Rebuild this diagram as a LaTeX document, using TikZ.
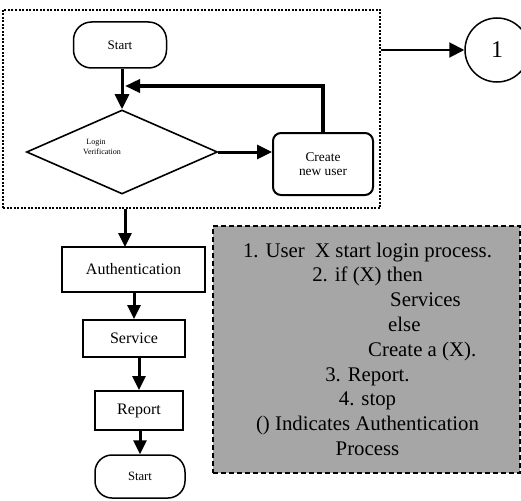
\documentclass[tikz,border=0pt]{standalone}
\usepackage{fontspec}
\setmainfont{Liberation Serif}
\usetikzlibrary{arrows.meta,shapes.geometric,calc}
\definecolor{boxgray}{RGB}{166,166,166}
\begin{document}
\begin{tikzpicture}[x=1pt,y=-1pt,
  arr/.style={line width=3pt,-{Triangle[length=15pt,width=14pt]}},
  arrs/.style={line width=3pt,-{Triangle[length=14pt,width=13pt]}},
  term/.style={draw,line width=1.5pt,rounded corners=18pt,inner sep=0pt},
  proc/.style={draw,line width=2pt,inner sep=0pt,font=\fontsize{16}{18}\selectfont},
  txt/.style={font=\fontsize{20.8}{24.8}\selectfont,inner sep=0pt},
]
\useasboundingbox (0,0) rectangle (521,500);
% dotted group box
\node[draw,line width=2pt,dash pattern=on 2pt off 1.5pt,minimum width=377pt,minimum height=198pt,inner sep=0pt] (grp) at (191.5,109) {};
% top part
\node[term,minimum width=93pt,minimum height=46pt,font=\fontsize{13}{15}\selectfont] (start) at (120,45) {Start};
\node[diamond,draw,line width=1.6pt,minimum width=191pt,minimum height=84pt,inner sep=0pt] (login) at (122,152) {};
\node[font=\fontsize{8}{10}\selectfont,align=center,inner sep=0pt] (logintxt) at (102,147) {Login\hspace*{12pt}\\Verification};
\node[draw,line width=2pt,rounded corners=8pt,minimum width=100pt,minimum height=62pt,align=center,inner sep=0pt,font=\fontsize{13.4}{14.5}\selectfont] (create) at (323,164) {Create\\new user};
\node[draw,circle,line width=1.5pt,minimum size=64pt,inner sep=0pt,font=\fontsize{24}{24}\selectfont] (one) at (497,50) {1};
\coordinate (fb) at (125,86);
\draw[arr] (start.south -| login.north) -- (login.north);
\draw[arr] (login.east) -- (login.east -| create.west);
\draw[line width=3.5pt,-{Triangle[length=15pt,width=13pt]}] (create.north) |- (fb);
\draw[line width=2pt,-{Triangle[length=15pt,width=15pt]}] (grp.east |- one.west) -- (one.west);
% lower chain
\node[proc,minimum width=143pt,minimum height=45pt] (auth) at (133.5,269.5) {Authentication};
\node[proc,minimum width=102pt,minimum height=37pt] (serv) at (134,338.5) {Service};
\node[proc,minimum width=88pt,minimum height=39pt] (rep) at (139,410.5) {Report};
\node[term,rounded corners=17pt,minimum width=90pt,minimum height=43pt,font=\fontsize{12.7}{14}\selectfont] (stop) at (140,476.5) {Start};
\coordinate (a1) at (125,247);
\draw[arrs] (grp.south -| a1) -- (a1);
\draw[arrs] (auth.south -| serv.north) -- (serv.north);
\draw[arrs] (serv.south -| rep.north) -- (rep.north);
\draw[arrs] (rep.south -| stop.north) -- (stop.north);
% note box
\node[draw,fill=boxgray,line width=1.5pt,dash pattern=on 5pt off 3pt,minimum width=307pt,minimum height=247pt,inner sep=0pt] (note) at (366.5,349.5) {};
\node[txt,anchor=base] (l1) at (367.5,257) {1. User\ \ X start login process.};
\node[txt,anchor=base] (l2) at (367.5,281.8) {2. if (X) then};
\node[txt,anchor=base west] (l3) at (390,306.6) {Services};
\node[txt,anchor=base west] (l4) at (388,331.4) {else};
\node[txt,anchor=base west] (l5) at (368,356.2) {Create a (X).};
\node[txt,anchor=base] (l6) at (367.5,381) {3. Report.};
\node[txt,anchor=base] (l7) at (367.5,405.8) {4. stop};
\node[txt,anchor=base] (l8) at (367.5,430.6) {() Indicates Authentication};
\node[txt,anchor=base] (l9) at (367.5,455.4) {Process};
\end{tikzpicture}
\end{document}
